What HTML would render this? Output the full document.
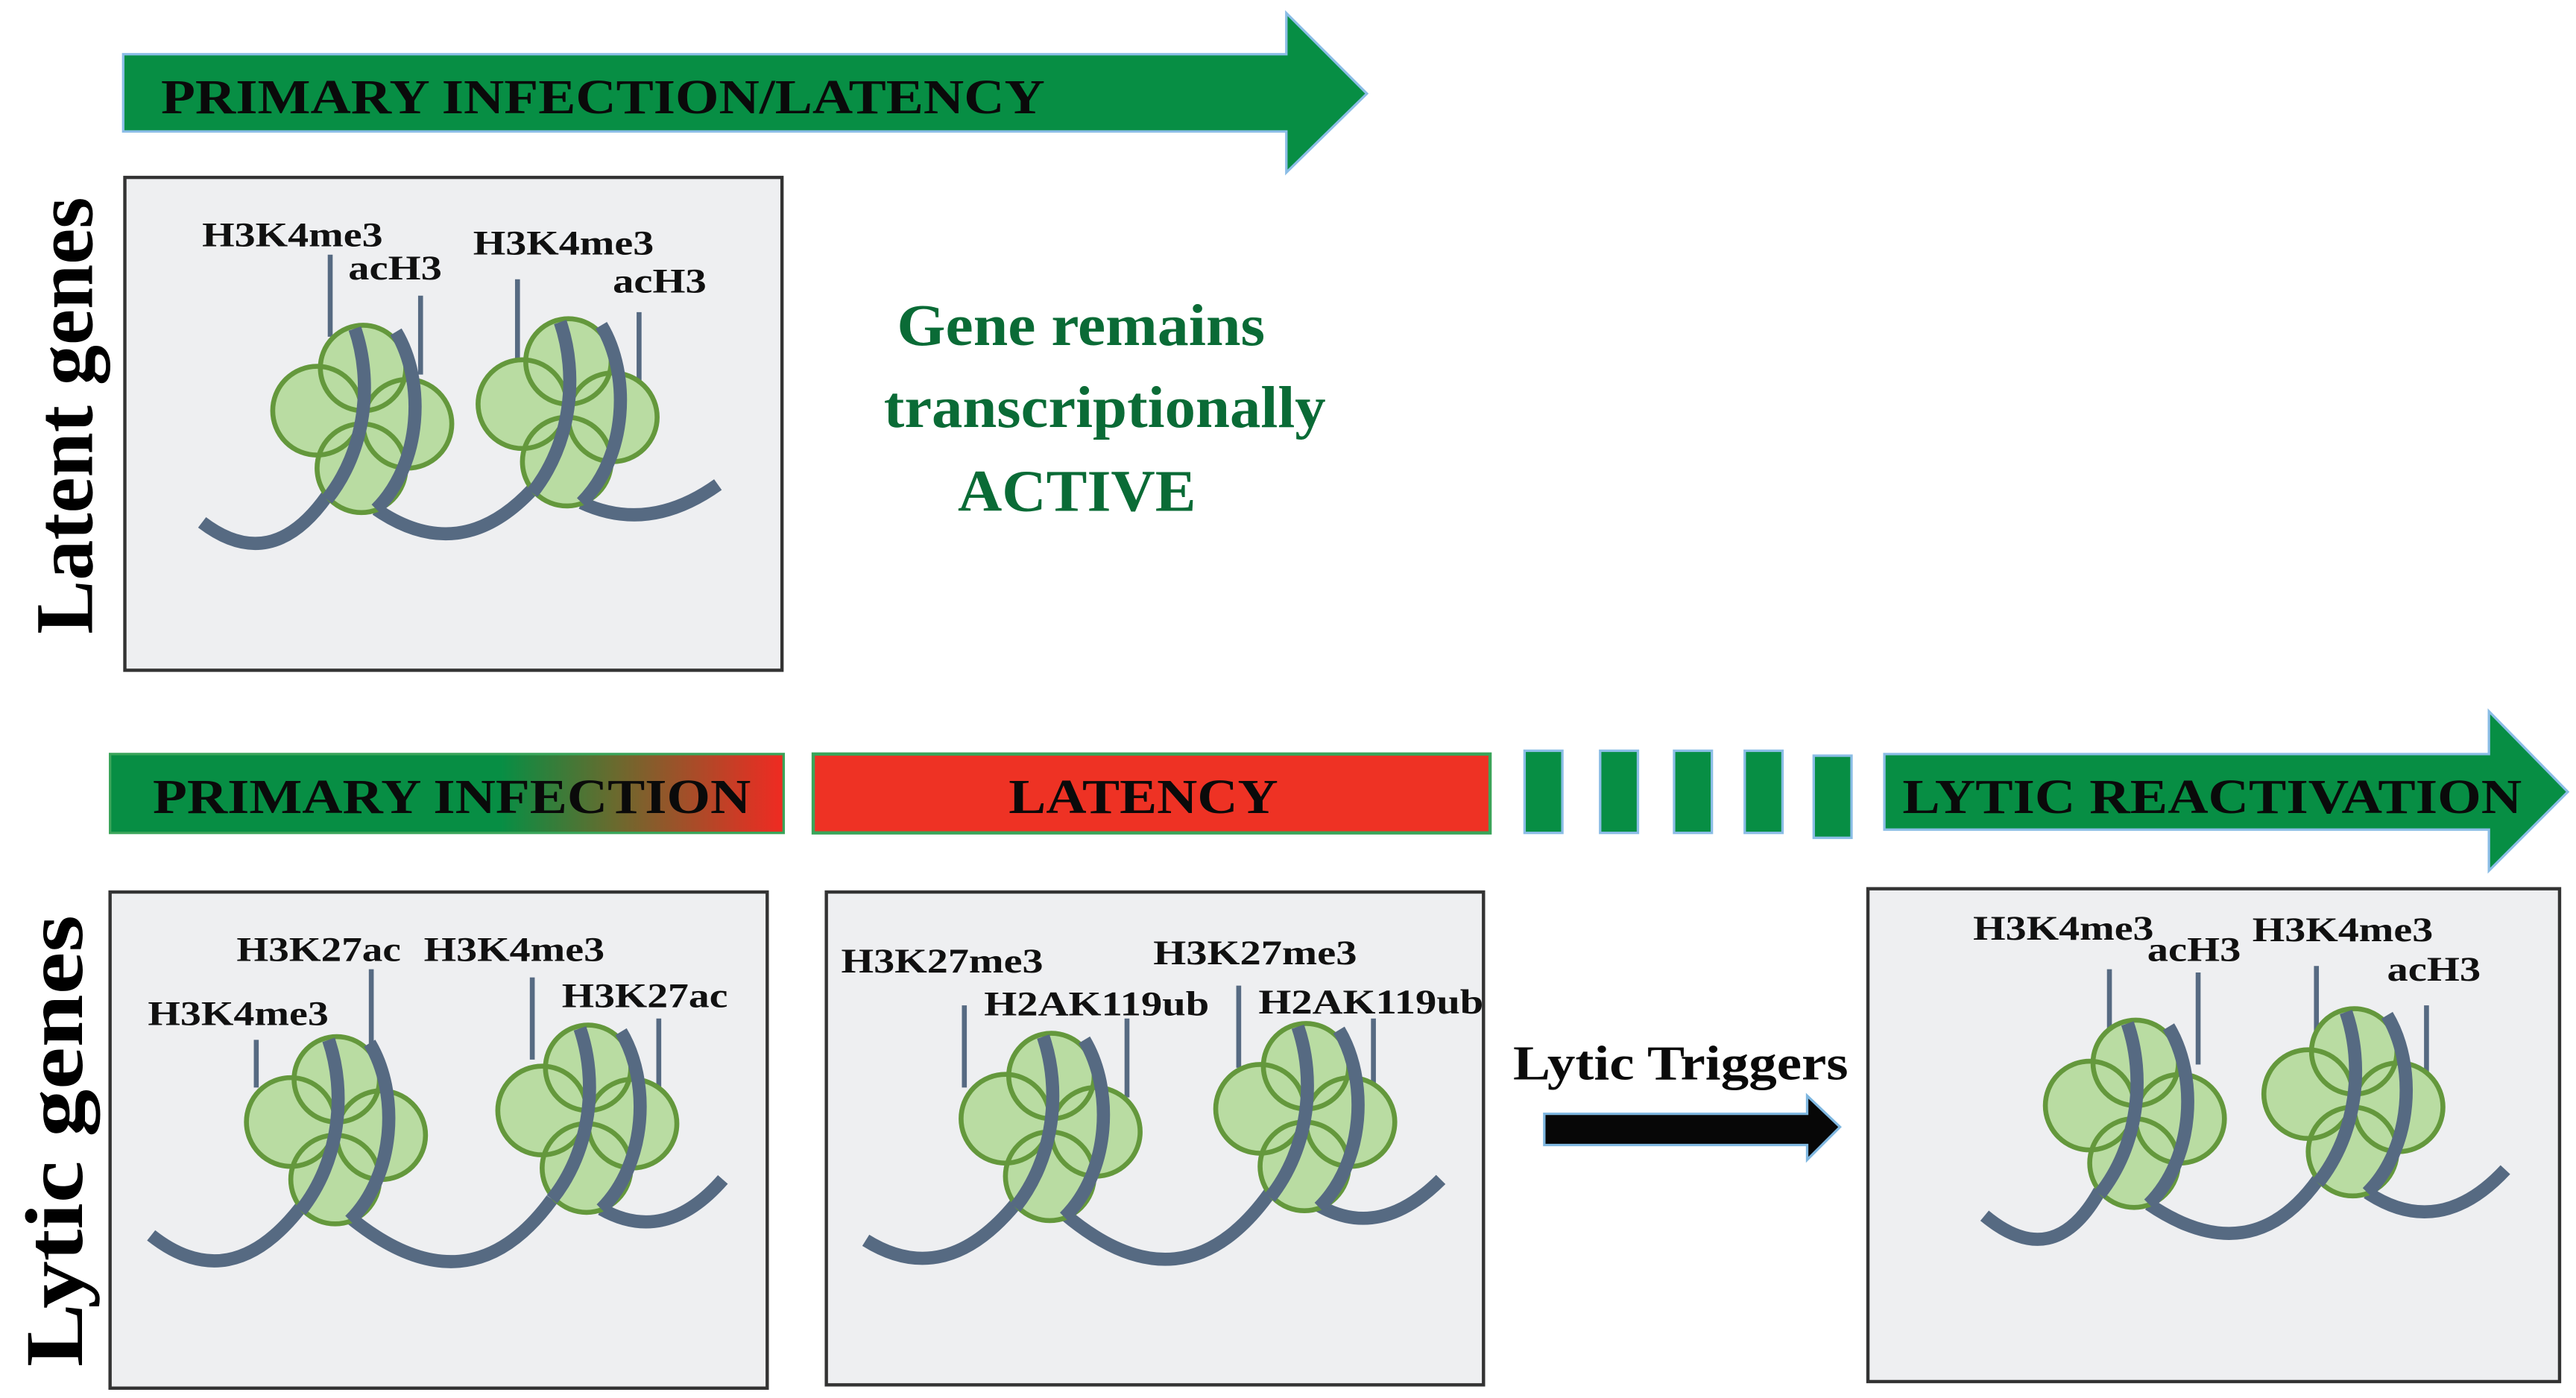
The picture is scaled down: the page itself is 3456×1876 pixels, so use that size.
<!DOCTYPE html>
<html><head><meta charset="utf-8"><style>
html,body{margin:0;padding:0;background:#fff;}
svg{display:block;}
text{font-family:"Liberation Serif",serif;font-weight:bold;}
</style></head><body>
<svg width="3456" height="1876" viewBox="0 0 1568 851" preserveAspectRatio="none" xmlns="http://www.w3.org/2000/svg">
<defs>
<linearGradient id="g1" x1="0" x2="1" y1="0" y2="0">
<stop offset="0" stop-color="#078e44"/><stop offset="0.58" stop-color="#078e44"/>
<stop offset="0.75" stop-color="#6a6a2e"/><stop offset="1" stop-color="#f02a22"/>
</linearGradient>
<g id="nuc">
<g fill="#b9dca2" stroke="none">
<circle cx="-28" cy="-2" r="27"/><circle cx="0" cy="-28" r="26"/><circle cx="27" cy="6" r="27"/><circle cx="-1" cy="33" r="27"/>
</g>
<g fill="none" stroke="#64983c" stroke-width="3">
<circle cx="-28" cy="-2" r="27"/><circle cx="0" cy="-28" r="26"/><circle cx="27" cy="6" r="27"/><circle cx="-1" cy="33" r="27"/>
</g>
<g fill="none" stroke="#566a82" stroke-width="8">
<path d="M-22,52 C2,22 6,-20 -5,-52"/>
<path d="M20,-50 C38,-20 36,30 8,58"/>
</g>
</g>
</defs>

<path d="M75,33 H783 V8 L832,57 L783,105 V80 H75 Z" fill="#078e44" stroke="#8bbde6" stroke-width="1.5"/>
<text x="98" y="69" font-size="30" textLength="538" lengthAdjust="spacingAndGlyphs" fill="#0a0a0a">PRIMARY INFECTION/LATENCY</text>

<text transform="translate(56,386) rotate(-90)" font-size="50" textLength="266" lengthAdjust="spacingAndGlyphs" fill="#000">Latent genes</text>
<text transform="translate(50,832) rotate(-90)" font-size="50" textLength="275" lengthAdjust="spacingAndGlyphs" fill="#000">Lytic genes</text>

<rect x="76" y="108" width="400" height="300" fill="#eeeff1" stroke="#333" stroke-width="2"/>
<g stroke="#566a82" stroke-width="3">
<line x1="201" y1="155" x2="201" y2="205"/><line x1="256" y1="180" x2="256" y2="228"/>
<line x1="315" y1="170" x2="315" y2="220"/><line x1="389" y1="190" x2="389" y2="236"/>
</g>
<g fill="none" stroke="#566a82" stroke-width="8">
<path d="M123,318 Q165,350 199,302"/>
<path d="M229,310 Q280,345 324,298"/>
<path d="M354,306 Q395,325 437,295"/>
</g>
<use href="#nuc" x="221" y="252"/>
<use href="#nuc" x="346" y="248"/>
<g font-size="21" fill="#111">
<text x="123" y="150" textLength="110" lengthAdjust="spacingAndGlyphs">H3K4me3</text>
<text x="212" y="170" textLength="57" lengthAdjust="spacingAndGlyphs">acH3</text>
<text x="288" y="155" textLength="110" lengthAdjust="spacingAndGlyphs">H3K4me3</text>
<text x="373" y="178" textLength="57" lengthAdjust="spacingAndGlyphs">acH3</text>
</g>

<g fill="#0a6b36" font-size="36">
<text x="546" y="210" textLength="224" lengthAdjust="spacingAndGlyphs">Gene remains</text>
<text x="538" y="260" textLength="269" lengthAdjust="spacingAndGlyphs">transcriptionally</text>
<text x="583" y="311" textLength="145" lengthAdjust="spacingAndGlyphs">ACTIVE</text>
</g>

<rect x="67" y="459" width="410" height="48" fill="url(#g1)" stroke="#3aa55a" stroke-width="1.5"/>
<text x="93" y="495" font-size="30" textLength="364" lengthAdjust="spacingAndGlyphs" fill="#0a0a0a">PRIMARY INFECTION</text>
<rect x="495" y="459" width="412" height="48" fill="#ee3224" stroke="#3aa55a" stroke-width="2"/>
<text x="614" y="495" font-size="30" textLength="164" lengthAdjust="spacingAndGlyphs" fill="#0a0a0a">LATENCY</text>
<g fill="#078e44" stroke="#8bbde6" stroke-width="1.5">
<rect x="928" y="457" width="23" height="50"/><rect x="974" y="457" width="23" height="50"/>
<rect x="1019" y="457" width="23" height="50"/><rect x="1062" y="457" width="23" height="50"/>
<rect x="1104" y="460" width="23" height="50"/>
</g>
<path d="M1147,459 H1515 V433 L1563,482 L1515,530 V505 H1147 Z" fill="#078e44" stroke="#8bbde6" stroke-width="1.5"/>
<text x="1158" y="495" font-size="30" textLength="377" lengthAdjust="spacingAndGlyphs" fill="#0a0a0a">LYTIC REACTIVATION</text>

<rect x="67" y="543" width="400" height="302" fill="#eeeff1" stroke="#333" stroke-width="2"/>
<g stroke="#566a82" stroke-width="3">
<line x1="156" y1="633" x2="156" y2="662"/><line x1="226" y1="590" x2="226" y2="640"/>
<line x1="324" y1="595" x2="324" y2="645"/><line x1="401" y1="620" x2="401" y2="668"/>
</g>
<g fill="none" stroke="#566a82" stroke-width="8">
<path d="M92,752 Q140,790 183,735"/>
<path d="M213,741 Q285,800 336,730"/>
<path d="M366,736 Q405,758 440,718"/>
</g>
<use href="#nuc" x="205" y="685"/>
<use href="#nuc" x="358" y="678"/>
<g font-size="21" fill="#111">
<text x="144" y="585" textLength="100" lengthAdjust="spacingAndGlyphs">H3K27ac</text>
<text x="90" y="624" textLength="110" lengthAdjust="spacingAndGlyphs">H3K4me3</text>
<text x="258" y="585" textLength="110" lengthAdjust="spacingAndGlyphs">H3K4me3</text>
<text x="342" y="613" textLength="101" lengthAdjust="spacingAndGlyphs">H3K27ac</text>
</g>

<rect x="503" y="543" width="400" height="300" fill="#eeeff1" stroke="#333" stroke-width="2"/>
<g stroke="#566a82" stroke-width="3">
<line x1="587" y1="612" x2="587" y2="662"/><line x1="686" y1="620" x2="686" y2="668"/>
<line x1="754" y1="600" x2="754" y2="650"/><line x1="836" y1="620" x2="836" y2="665"/>
</g>
<g fill="none" stroke="#566a82" stroke-width="8">
<path d="M527,755 Q575,785 618,733"/>
<path d="M648,739 Q720,800 773,726"/>
<path d="M803,734 Q840,755 877,718"/>
</g>
<use href="#nuc" x="640" y="683"/>
<use href="#nuc" x="795" y="677"/>
<g font-size="21" fill="#111">
<text x="512" y="592" textLength="123" lengthAdjust="spacingAndGlyphs">H3K27me3</text>
<text x="599" y="618" textLength="137" lengthAdjust="spacingAndGlyphs">H2AK119ub</text>
<text x="702" y="587" textLength="124" lengthAdjust="spacingAndGlyphs">H3K27me3</text>
<text x="766" y="617" textLength="137" lengthAdjust="spacingAndGlyphs">H2AK119ub</text>
</g>

<text x="921" y="657" font-size="30" textLength="204" lengthAdjust="spacingAndGlyphs" fill="#0a0a0a">Lytic Triggers</text>
<path d="M940,678 H1100 V667 L1120,686 L1100,706 V697 H940 Z" fill="#070707" stroke="#7fb7e0" stroke-width="1.5"/>

<rect x="1137" y="541" width="421" height="300" fill="#eeeff1" stroke="#333" stroke-width="2"/>
<g stroke="#566a82" stroke-width="3">
<line x1="1284" y1="590" x2="1284" y2="640"/><line x1="1338" y1="592" x2="1338" y2="648"/>
<line x1="1410" y1="588" x2="1410" y2="637"/><line x1="1477" y1="612" x2="1477" y2="660"/>
</g>
<g fill="none" stroke="#566a82" stroke-width="8">
<path d="M1208,740 Q1250,775 1278,725"/>
<path d="M1308,733 Q1370,775 1411,718"/>
<path d="M1441,726 Q1485,755 1525,712"/>
</g>
<use href="#nuc" x="1300" y="675"/>
<use href="#nuc" x="1433" y="668"/>
<g font-size="21" fill="#111">
<text x="1201" y="572" textLength="110" lengthAdjust="spacingAndGlyphs">H3K4me3</text>
<text x="1307" y="585" textLength="57" lengthAdjust="spacingAndGlyphs">acH3</text>
<text x="1371" y="573" textLength="110" lengthAdjust="spacingAndGlyphs">H3K4me3</text>
<text x="1453" y="597" textLength="57" lengthAdjust="spacingAndGlyphs">acH3</text>
</g>
</svg>
</body></html>
